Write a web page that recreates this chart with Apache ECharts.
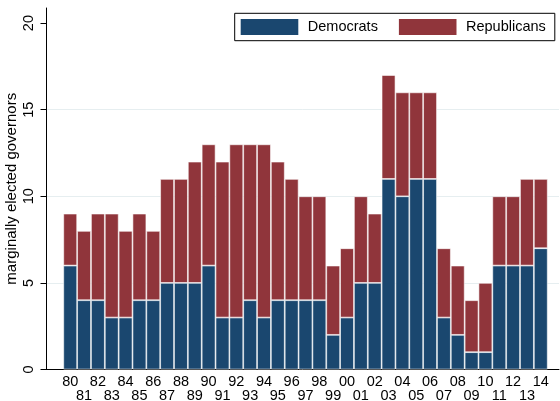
<!DOCTYPE html>
<html>
<head>
<meta charset="utf-8">
<script src="https://cdn.jsdelivr.net/npm/echarts@6/dist/echarts.min.js"></script>
<style>
  html, body { margin: 0; padding: 0; background: #fff; }
  #chart { width: 560px; height: 401px; }
</style>
</head>
<body>
<div id="chart"></div>
<script>
// Election years and marginally elected governors by party
const years = ['1980', '1981', '1982', '1983', '1984', '1985', '1986', '1987', '1988', '1989',
               '1990', '1991', '1992', '1993', '1994', '1995', '1996', '1997', '1998', '1999',
               '2000', '2001', '2002', '2003', '2004', '2005', '2006', '2007', '2008', '2009',
               '2010', '2011', '2012', '2013', '2014'];
const democrats   = [6, 4, 4, 3, 3, 4, 4, 5, 5, 5,
                     6, 3, 3, 4, 3, 4, 4, 4, 4, 2,
                     3, 5, 5, 11, 10, 11, 11, 3, 2, 1,
                     1, 6, 6, 6, 7];
const republicans = [3, 4, 5, 6, 5, 5, 4, 6, 6, 7,
                     7, 9, 10, 9, 10, 8, 7, 6, 6, 4,
                     4, 5, 4, 6, 6, 5, 5, 4, 4, 3,
                     4, 4, 4, 5, 4];
const yTicks = [0, 5, 10, 15, 20];
const yTitle = 'marginally elected governors';

const FONT = 'Liberation Sans, Arial, Helvetica, sans-serif';
const NAVY = '#1a476f';
const MAROON = '#90353b';
const GRID = '#e6eef0';
const Y_MAX = 20.87;
const PLOT_TOP = 8;
const PLOT_BOTTOM = 31.5;

// Two-digit year labels; odd years drop to a second row
function yearLabel(v) {
  const y = parseInt(v, 10);
  const s = String(y % 100).padStart(2, '0');
  return (y % 2 === 1) ? '\n' + s : s;
}

const chart = echarts.init(document.getElementById('chart'), null, { renderer: 'canvas' });

chart.setOption({
  animation: false,
  backgroundColor: '#ffffff',
  textStyle: { fontFamily: FONT },
  grid: [
    // bar area (bars are inset from the axis frame)
    { left: 63.3, right: 12.3, top: PLOT_TOP, bottom: PLOT_BOTTOM, outerBoundsMode: 'none', containLabel: false },
    // axis frame
    { left: 46.5, right: 1, top: PLOT_TOP, bottom: PLOT_BOTTOM, outerBoundsMode: 'none', containLabel: false }
  ],
  legend: {
    left: 234.7,
    top: 13.3,
    padding: [5.7, 9, 5.7, 6],
    itemWidth: 57.6,
    itemHeight: 16,
    itemGap: 21,
    icon: 'rect',
    borderColor: '#000',
    borderWidth: 1,
    itemStyle: { borderWidth: 0 },
    textStyle: { fontFamily: FONT, fontSize: 14.5, color: '#000', padding: [0, 0, 0, 4.5] },
    data: ['Democrats', 'Republicans']
  },
  xAxis: [
    {
      gridIndex: 0,
      type: 'category',
      data: years,
      boundaryGap: true,
      axisLine: { show: false },
      axisTick: { show: false },
      splitLine: { show: false },
      axisLabel: {
        interval: 0,
        hideOverlap: false,
        formatter: yearLabel,
        fontFamily: FONT,
        fontSize: 14.5,
        lineHeight: 14,
        color: '#000',
        margin: 5
      }
    },
    {
      gridIndex: 1,
      type: 'value',
      min: 0,
      max: 1,
      axisLine: { show: true, lineStyle: { color: '#000', width: 1 } },
      axisTick: { show: false },
      axisLabel: { show: false },
      splitLine: { show: false }
    }
  ],
  yAxis: [
    {
      gridIndex: 0,
      type: 'value',
      min: 0,
      max: Y_MAX,
      show: false,
      splitLine: { show: false }
    },
    {
      gridIndex: 1,
      type: 'value',
      min: 0,
      max: Y_MAX,
      interval: 5,
      name: yTitle,
      nameLocation: 'middle',
      nameRotate: 90,
      nameGap: 27,
      nameMoveOverlap: false,
      nameTextStyle: { fontFamily: FONT, fontSize: 15, color: '#000' },
      axisLine: { show: true, lineStyle: { color: '#000', width: 1 } },
      axisTick: { show: true, length: 6, customValues: yTicks, lineStyle: { color: '#000' } },
      axisLabel: {
        customValues: yTicks,
        rotate: 90,
        fontFamily: FONT,
        fontSize: 14.5,
        color: '#000',
        margin: 10
      },
      splitLine: {
        show: true,
        lineStyle: { color: ['rgba(0,0,0,0)', GRID, GRID, GRID, 'rgba(0,0,0,0)', 'rgba(0,0,0,0)'], width: 1 }
      }
    }
  ],
  series: [
    {
      name: 'Democrats',
      type: 'bar',
      stack: 'total',
      xAxisIndex: 0,
      yAxisIndex: 0,
      barCategoryGap: 0,
      data: democrats,
      itemStyle: { color: NAVY, borderColor: 'rgba(255,255,255,0.72)', borderWidth: 0.8 }
    },
    {
      name: 'Republicans',
      type: 'bar',
      stack: 'total',
      xAxisIndex: 0,
      yAxisIndex: 0,
      barCategoryGap: 0,
      data: republicans,
      itemStyle: { color: MAROON, borderColor: 'rgba(255,255,255,0.72)', borderWidth: 0.8 }
    }
  ]
});
</script>
</body>
</html>
